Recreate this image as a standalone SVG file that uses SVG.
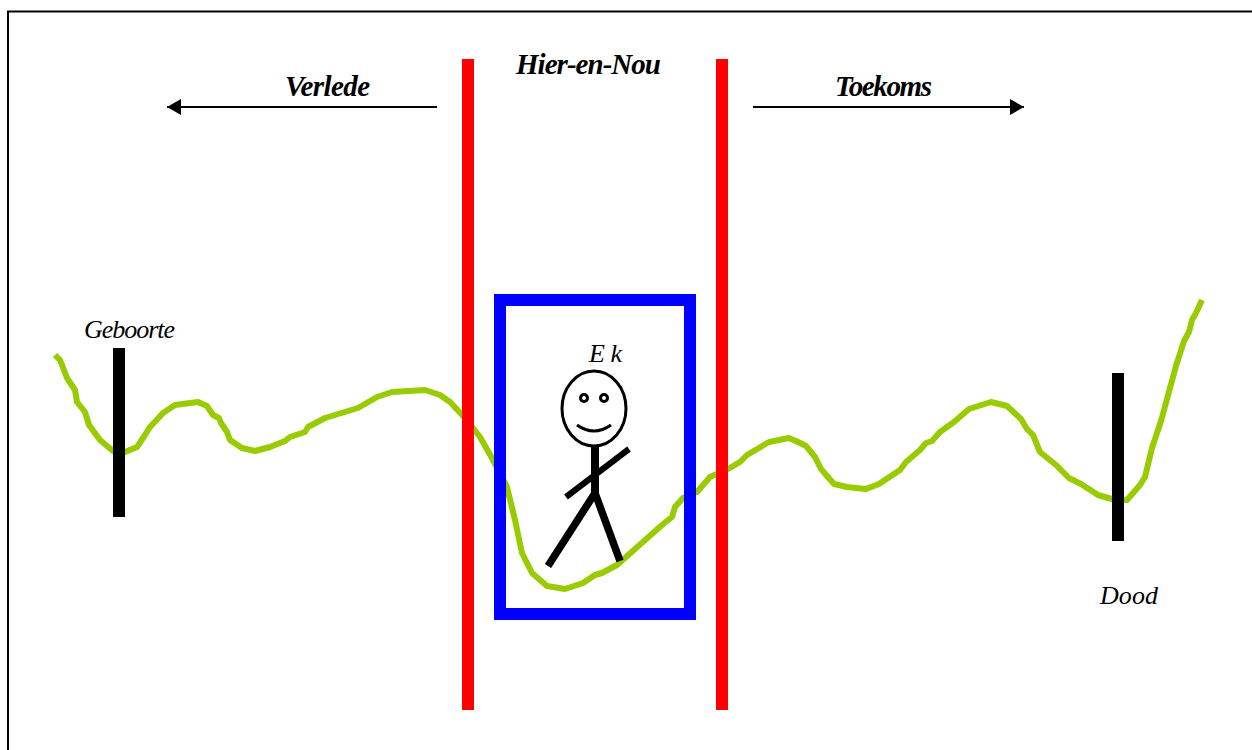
<svg xmlns="http://www.w3.org/2000/svg" width="1252" height="750" viewBox="0 0 1252 750">
<style>
text{font-family:"Liberation Serif","DejaVu Serif",serif;font-style:italic;fill:#000}
.h{font-weight:700;font-size:29px}
.n{font-size:26px}
.blk{fill:none;stroke:#000;stroke-linecap:butt}
</style>
<defs>
<marker id="ah" markerUnits="userSpaceOnUse" markerWidth="14" markerHeight="16" refX="14" refY="8" orient="auto"><path d="M0 0L14 8L0 16Z" fill="#000"/></marker>
</defs>
<rect width="1252" height="750" fill="#fff"/>
<path d="M8 750V11.500H1252" fill="none" stroke="#000" stroke-width="2"/>
<g id="timeline">
<polyline fill="none" stroke="#99cc00" stroke-width="6" stroke-linejoin="round" points="55,355 60,360 62,365 67,378 75,390 77,402 85,412 89,425 100,440 113,451 125,452 137,447 143,438 150,427 163,413 175,405 198,402 207,406 213,415 219,418 221,423 227,432 230,440 242,448 255,451 270,447 285,441 290,437 305,432 308,427 325,418 358,408 377,397 392,392 425,390 440,395 450,402 465,418 480,437 493,460 507,487 515,520 522,553 532,573 547,586 565,589 583,583 595,575 602,573 617,565 653,533 662,525 672,517 675,507 683,498 697,492 710,477 728,469 740,462 747,455 769,442 789,438 798,442 806,446 815,457 821,469 834,484 847,487 866,489 879,484 900,470 906,462 920,450 926,443 932,441 940,432 954,422 969,409 991,402 1007,406 1021,419 1027,429 1033,435 1040,452 1056,465 1069,478 1081,484 1098,495 1112,499 1127,500 1140,485 1145,477 1152,448 1161,421 1176,366 1184,341 1189,332 1192,320 1196,313 1202,300"/>
</g>
<g id="past-boundary"><rect x="462" y="59" width="12" height="651" fill="#f00"/></g>
<g id="future-boundary"><rect x="716" y="59" width="12" height="651" fill="#f00"/></g>
<g id="present-box"><rect x="500" y="300" width="190" height="314" fill="none" stroke="#00f" stroke-width="12"/></g>
<g id="birth-bar"><rect x="113" y="348" width="12" height="169" fill="#000"/></g>
<g id="death-bar"><rect x="1112" y="373" width="12" height="168" fill="#000"/></g>
<g id="stick-figure">
<ellipse cx="594" cy="408.500" rx="32" ry="37.500" fill="#fff" stroke="#000" stroke-width="3"/>
<circle cx="584" cy="398" r="3.500" fill="#fff" stroke="#000" stroke-width="3"/>
<circle cx="604" cy="398" r="3.500" fill="#fff" stroke="#000" stroke-width="3"/>
<path class="blk" stroke-width="3" stroke-linecap="round" d="M577 425Q594 437 611 425"/>
<path class="blk" stroke-width="8" d="M595 447V495"/>
<path class="blk" stroke-width="6" d="M629 449L566 497"/>
<path class="blk" stroke-width="7.500" d="M595 493L548 566M595 493L620 561"/>
</g>
<g id="connectors">
<path d="M437 107H167" fill="none" stroke="#000" stroke-width="2" marker-end="url(#ah)"/>
<path d="M753 107H1024" fill="none" stroke="#000" stroke-width="2" marker-end="url(#ah)"/>
</g>
<g id="label-verlede"><text class="h" x="285" y="96" textLength="85">Verlede</text></g>
<g id="label-hier"><text class="h" x="516" y="74" textLength="145">Hier-en-Nou</text></g>
<g id="label-toekoms"><text class="h" x="835" y="96" textLength="97">Toekoms</text></g>
<g id="label-geboorte"><text class="n" x="84" y="338" textLength="91">Geboorte</text></g>
<g id="label-ek"><text class="n" x="589" y="362" textLength="33">Ek</text></g>
<g id="label-dood"><text class="n" x="1100" y="604" textLength="58">Dood</text></g>
</svg>
